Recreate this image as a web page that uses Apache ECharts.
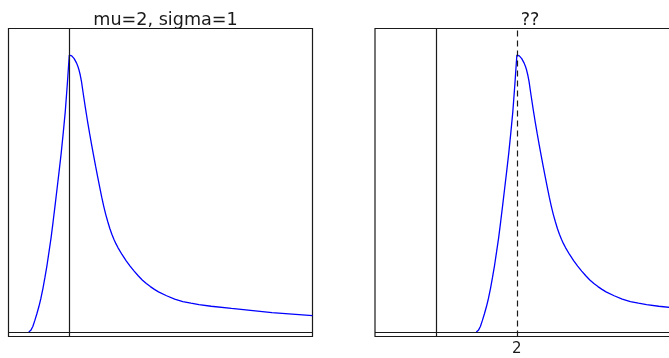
<!DOCTYPE html>
<html>
<head>
<meta charset="utf-8">
<script src="https://cdn.jsdelivr.net/npm/echarts@6/dist/echarts.min.js"></script>
<style>html,body{margin:0;padding:0;background:#fff;overflow:hidden}#c{width:700px;height:358px}</style>
</head>
<body>
<div id="c"></div>
<script>
// Panel titles
var titles = ['mu=2, sigma=1', '??'];
// Left panel curve (x relative to peak)
var leftX = [-1.0, -0.95, -0.90, -0.85, -0.80, -0.75, -0.70, -0.65, -0.60, -0.55, -0.50, -0.45, -0.40, -0.35,
  -0.30, -0.25, -0.20, -0.15, -0.10, -0.05, 0,
  0.03, 0.06, 0.09, 0.12, 0.15, 0.18, 0.21, 0.24, 0.27, 0.30, 0.35, 0.40, 0.45, 0.50, 0.55, 0.60, 0.65, 0.70,
  0.75, 0.80, 0.85, 0.90, 0.95, 1.00, 1.05, 1.10, 1.15, 1.20, 1.30, 1.40, 1.50, 1.60, 1.70, 1.80, 1.90, 2.00,
  2.10, 2.20, 2.40, 2.60, 2.80, 3.00, 3.20, 3.50, 4.00, 5.00, 6.00];
var leftY = [0.0, 0.006, 0.020, 0.042, 0.066, 0.092, 0.122, 0.158, 0.198, 0.241, 0.290, 0.340, 0.398, 0.458,
  0.520, 0.582, 0.646, 0.718, 0.795, 0.893, 1.0,
  0.9995, 0.997, 0.993, 0.987, 0.980, 0.971, 0.960, 0.946, 0.928, 0.905, 0.855, 0.807, 0.761, 0.718, 0.677, 0.637, 0.598, 0.560,
  0.523, 0.487, 0.454, 0.424, 0.398, 0.374, 0.353, 0.335, 0.319, 0.305, 0.280, 0.258, 0.238, 0.220, 0.203, 0.188, 0.175, 0.164,
  0.154, 0.145, 0.131, 0.119, 0.110, 0.104, 0.099, 0.093, 0.085, 0.070, 0.059];
// Right panel curve (same shape, peak at x = 2)
var rightX = [1.0, 1.05, 1.10, 1.15, 1.20, 1.25, 1.30, 1.35, 1.40, 1.45, 1.50, 1.55, 1.60, 1.65,
  1.70, 1.75, 1.80, 1.85, 1.90, 1.95, 2.0,
  2.03, 2.06, 2.09, 2.12, 2.15, 2.18, 2.21, 2.24, 2.27, 2.30, 2.35, 2.40, 2.45, 2.50, 2.55, 2.60, 2.65, 2.70,
  2.75, 2.80, 2.85, 2.90, 2.95, 3.00, 3.05, 3.10, 3.15, 3.20, 3.30, 3.40, 3.50, 3.60, 3.70, 3.80, 3.90, 4.00,
  4.10, 4.20, 4.40, 4.60, 4.80, 5.00, 5.20, 5.50, 6.00, 7.00, 8.00];
var rightY = leftY.slice();
// Axis tick labels shown on right panel
var rightTicks = [2];
var xMin = -1.5, xMax = 6;
var yMin = -0.0162, yMax = 1.096;

function pairs(xs, ys){ return xs.map(function(x,i){ return [x, ys[i]]; }); }

var frame = '#1a1a1a';
var chart = echarts.init(document.getElementById('c'), null, {renderer:'canvas'});
function axisX(idx, showTick){
  return {type:'value', gridIndex:idx, min:xMin, max:xMax, interval:0.5,
    axisLine:{show:false}, axisTick:{show:false}, splitLine:{show:false},
    axisLabel:{show:showTick, margin:5, fontFamily:'DejaVu Sans', fontSize:15, color:'#1a1a1a',
      formatter:function(v){ return rightTicks.indexOf(v) >= 0 ? String(v) : ''; }}};
}
function axisY(idx){
  return {type:'value', gridIndex:idx, min:yMin, max:yMax,
    axisLine:{show:false}, axisTick:{show:false}, splitLine:{show:false}, axisLabel:{show:false}};
}
var baseMark = {symbol:['none','none'], silent:true, label:{show:false},
  lineStyle:{color:frame, width:1.2, type:'solid'}, animation:false};

chart.setOption({
  animation:false,
  title:[
    {text:titles[0], left:160.5, top:6.5, textAlign:'center',
      textStyle:{fontFamily:'DejaVu Sans', fontSize:17.6, fontWeight:'normal', color:'#1a1a1a'}},
    {text:titles[1], left:525, top:6.5, textAlign:'center',
      textStyle:{fontFamily:'DejaVu Sans', fontSize:17.6, fontWeight:'normal', color:'#1a1a1a'}}
  ],
  grid:[
    {left:8.5, top:28.5, width:304, height:308, show:true, borderColor:frame, borderWidth:1.2, backgroundColor:'transparent'},
    {left:375, top:28.5, width:304, height:308, show:true, borderColor:frame, borderWidth:1.2, backgroundColor:'transparent'}
  ],
  xAxis:[axisX(0,false), axisX(1,true)],
  yAxis:[axisY(0), axisY(1)],
  series:[
    {type:'line', xAxisIndex:0, yAxisIndex:0, data:pairs(leftX,leftY), showSymbol:false,
      smooth:false, clip:true,
      lineStyle:{color:'#0000ff', width:1.3},
      markLine:Object.assign({}, baseMark, {data:[{xAxis:0},{yAxis:0}]})},
    {type:'line', xAxisIndex:1, yAxisIndex:1, data:pairs(rightX,rightY), showSymbol:false,
      smooth:false, clip:true,
      lineStyle:{color:'#0000ff', width:1.3},
      markLine:Object.assign({}, baseMark, {data:[
        {xAxis:0},{yAxis:0},
        {xAxis:2, lineStyle:{color:frame, width:1.2, type:[6,4]}}
      ]})}
  ]
});
</script>
</body>
</html>
